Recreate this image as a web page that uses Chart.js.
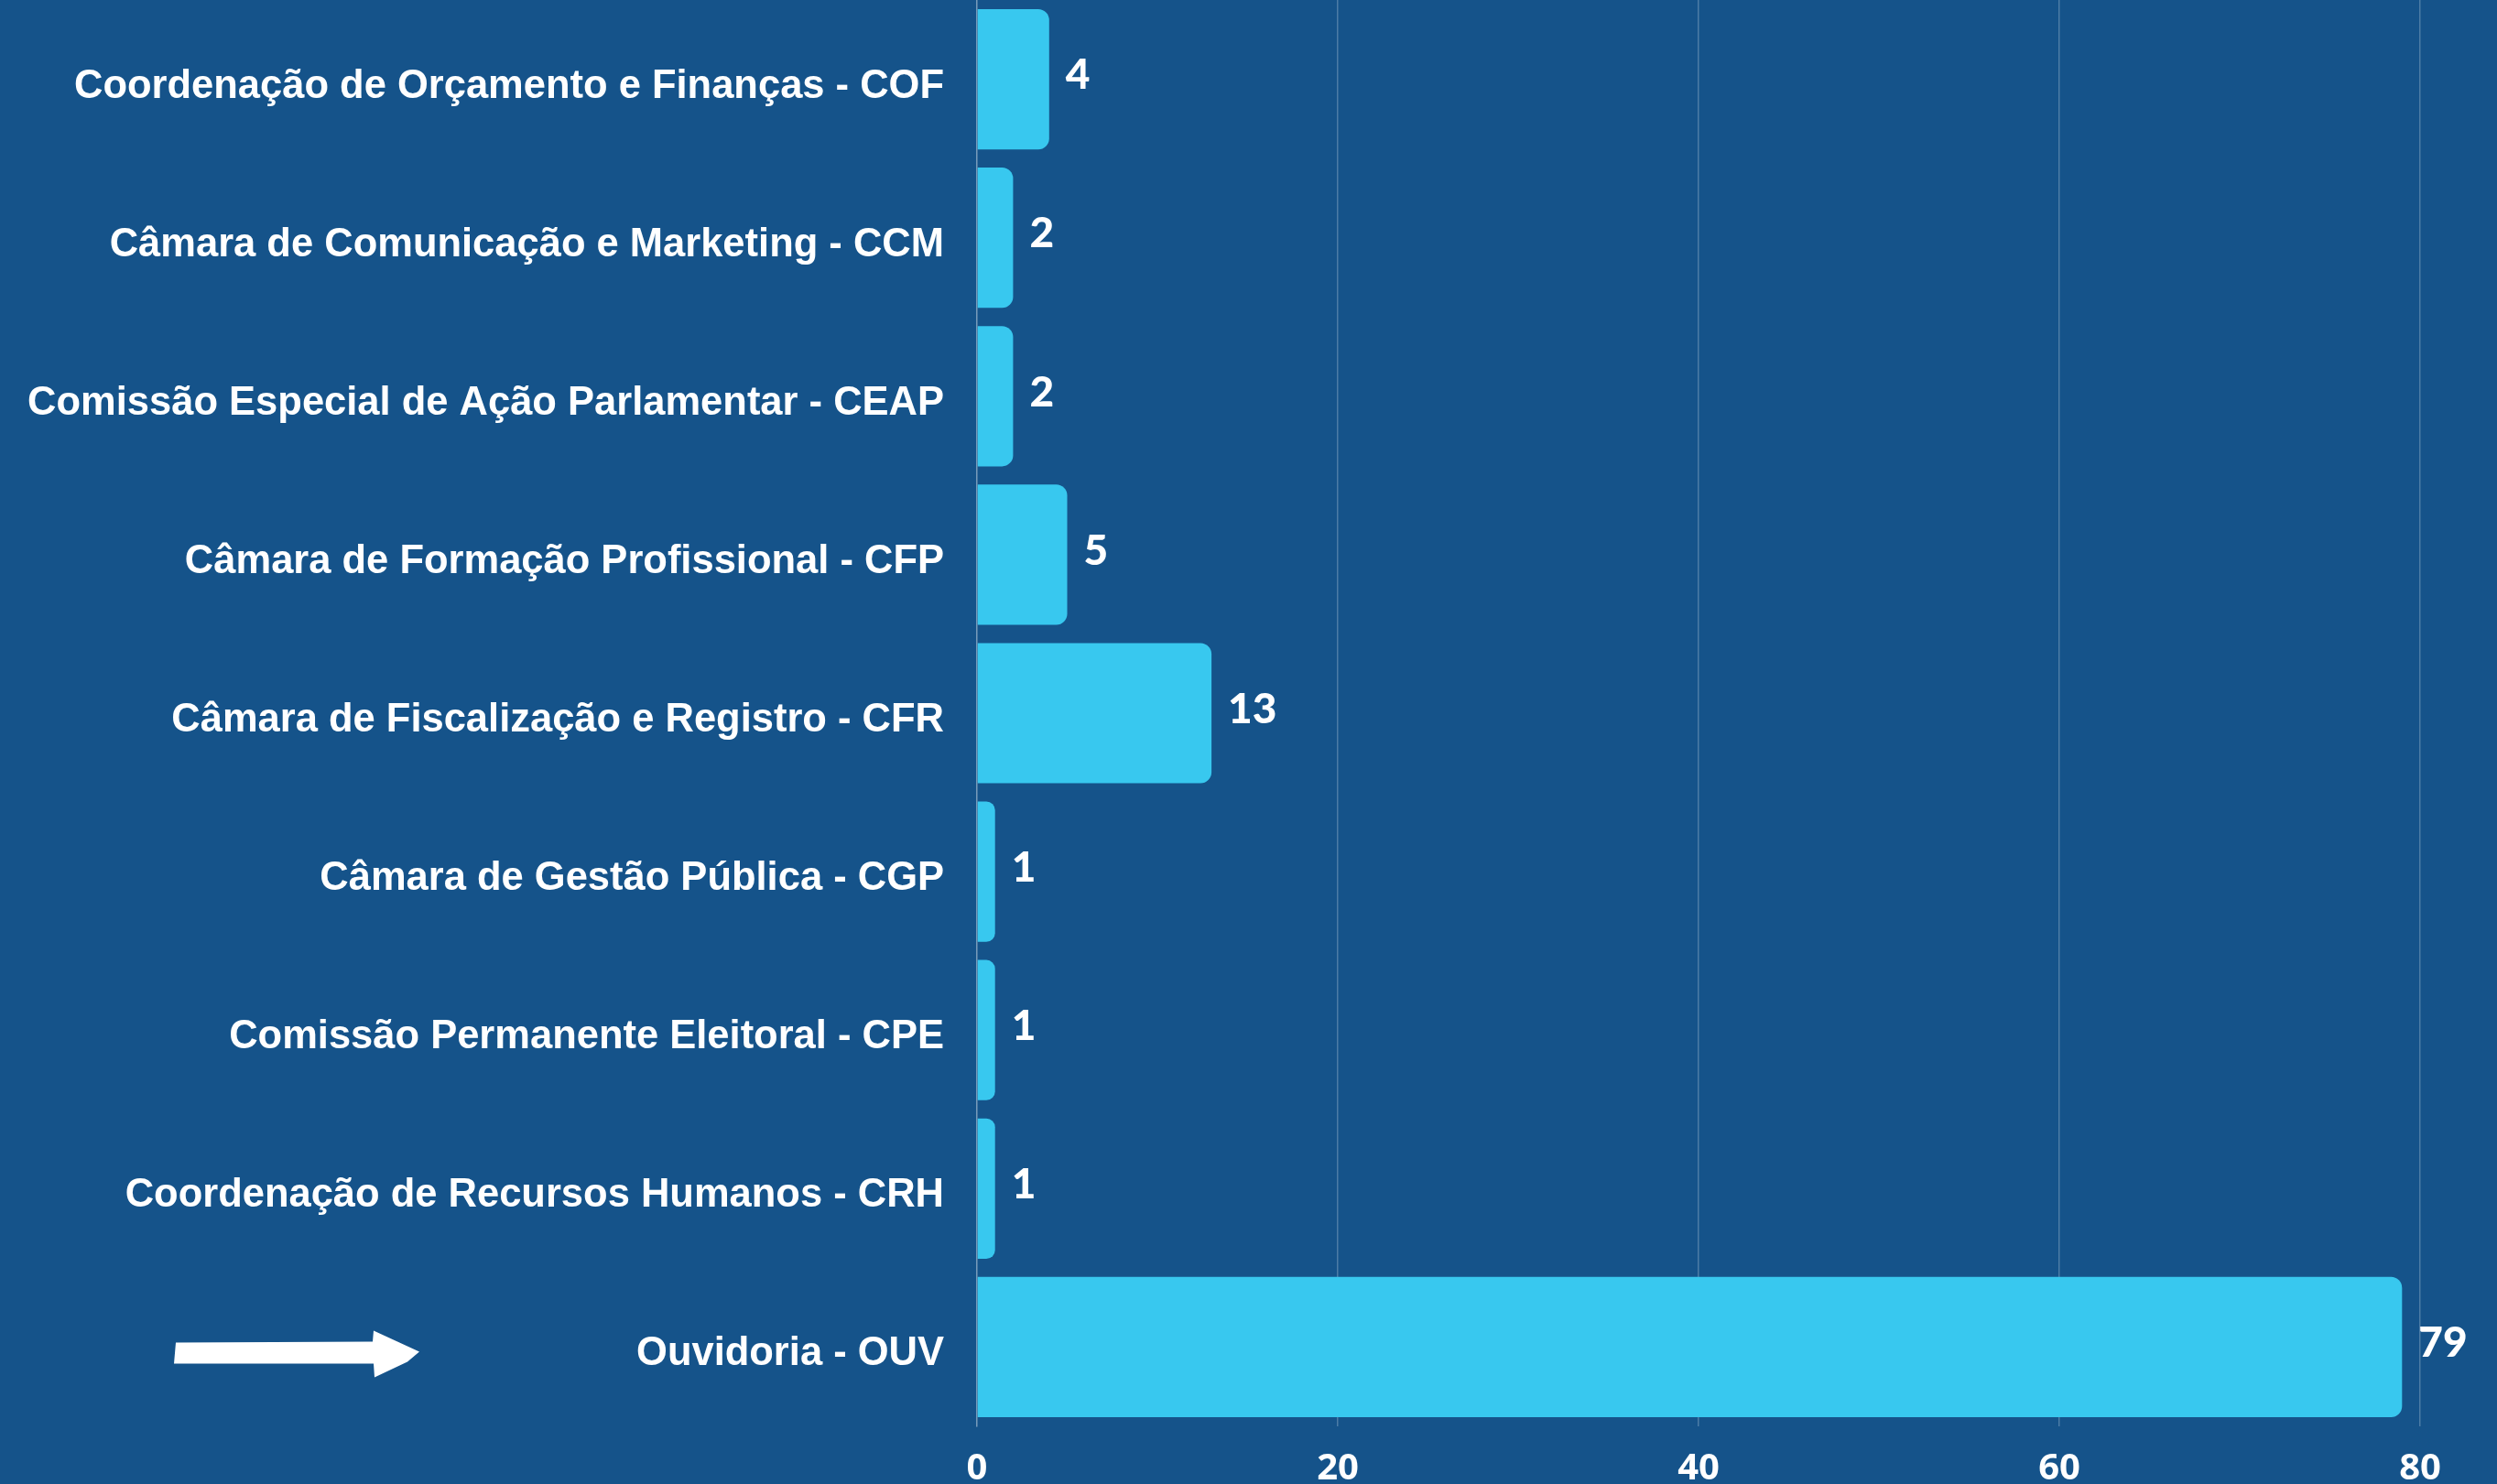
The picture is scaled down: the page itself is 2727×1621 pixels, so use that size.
<!DOCTYPE html>
<html>
<head>
<meta charset="utf-8">
<script src="https://cdn.jsdelivr.net/npm/chart.js@4.4.0/dist/chart.umd.min.js"></script>
<style>
  html, body { margin: 0; padding: 0; background: #15538a; }
  #wrap { width: 2727px; height: 1621px; position: relative; }
</style>
</head>
<body>
<div id="wrap"><canvas id="setores"></canvas></div>
<script>

// dados
const categorias = [
    "Coordenação de Orçamento e Finanças - COF",
    "Câmara de Comunicação e Marketing - CCM",
    "Comissão Especial de Ação Parlamentar - CEAP",
    "Câmara de Formação Profissional - CFP",
    "Câmara de Fiscalização e Registro - CFR",
    "Câmara de Gestão Pública - CGP",
    "Comissão Permanente Eleitoral - CPE",
    "Coordenação de Recursos Humanos - CRH",
    "Ouvidoria - OUV"
];
const valores  = [4, 2, 2, 5, 13, 1, 1, 1, 79];
const eixoMin  = 0;
const eixoMax  = 80;
const eixoPasso = 20;

const FUNDO  = '#15538a';
const BARRA  = '#38c8ef';
const GRADE  = 'rgba(255,255,255,0.24)';


// rótulos de valor ao lado de cada barra
const rotulosValor = {
    id: 'rotulosValor',
    afterDatasetsDraw( chart ) {
        const ctx  = chart.ctx;
        const meta = chart.getDatasetMeta( 0 );
        ctx.save();
        ctx.fillStyle    = '#ffffff';
        ctx.font         = '900 46px Lato, "Open Sans", sans-serif';
        ctx.textAlign    = 'left';
        ctx.textBaseline = 'middle';
        meta.data.forEach( ( bar, i ) => {
            ctx.fillText( String( valores[i] ), bar.x + 18, bar.y - 4 );
        } );
        ctx.restore();
    }
};

// seta branca apontando para a Ouvidoria
const seta = {
    id: 'seta',
    afterDraw( chart ) {
        const ctx = chart.ctx;
        const y   = chart.scales.y.getPixelForValue( categorias.length - 1 ) + 6;
        ctx.save();
        ctx.fillStyle = '#ffffff';
        ctx.beginPath();
        ctx.moveTo( 192, y - 11 );
        ctx.lineTo( 407, y - 12 );
        ctx.lineTo( 408, y - 24 );
        ctx.lineTo( 458, y - 1 );
        ctx.lineTo( 445, y + 10 );
        ctx.lineTo( 409, y + 27 );
        ctx.lineTo( 408, y + 12 );
        ctx.lineTo( 190, y + 12 );
        ctx.closePath();
        ctx.fill();
        ctx.restore();
    }
};


function buildChart() {
    const ctx = document.getElementById( 'setores' ).getContext( '2d' );
    new Chart( ctx, {
        type: 'bar',
        data: {
            labels: categorias,
            datasets: [ {
                data: valores,
                backgroundColor: BARRA,
                borderWidth: 0,
                borderRadius: 12,
                barPercentage: 1,
                categoryPercentage: 0.885
            } ]
        },
        options: {
            indexAxis: 'y',
            responsive: true,
            maintainAspectRatio: false,
            devicePixelRatio: 1,
            animation: false,
            layout: { padding: { top: 0, right: 84, left: 0, bottom: 0 } },
            plugins: {
                legend: { display: false },
                tooltip: { enabled: false }
            },
            scales: {
                x: {
                    min: eixoMin,
                    max: eixoMax,
                    afterFit: s => { s.height = 63; s.paddingLeft = 0; s.paddingRight = 0; },
                    grid: { color: GRADE, lineWidth: 1.5, drawTicks: false },
                    border: { display: false },
                    ticks: {
                        stepSize: eixoPasso,
                        color: '#ffffff',
                        padding: 23,
                        font: { family: '"Open Sans", sans-serif', size: 40, weight: 'bold' }
                    }
                },
                y: {
                    afterFit: s => { s.width = 1067; s.paddingTop = 0; s.paddingBottom = 0; },
                    grid: { display: false, drawTicks: false },
                    border: { display: true, color: GRADE, width: 1.5 },
                    ticks: {
                        color: '#ffffff',
                        padding: 36,
                        labelOffset: 8,
                        font: { family: '"Liberation Sans", Arial, sans-serif', size: 43.5, weight: 'bold' }
                    }
                }
            }
        },
        plugins: [ rotulosValor, seta ]
    } );
}

buildChart();
</script>
</body>
</html>
